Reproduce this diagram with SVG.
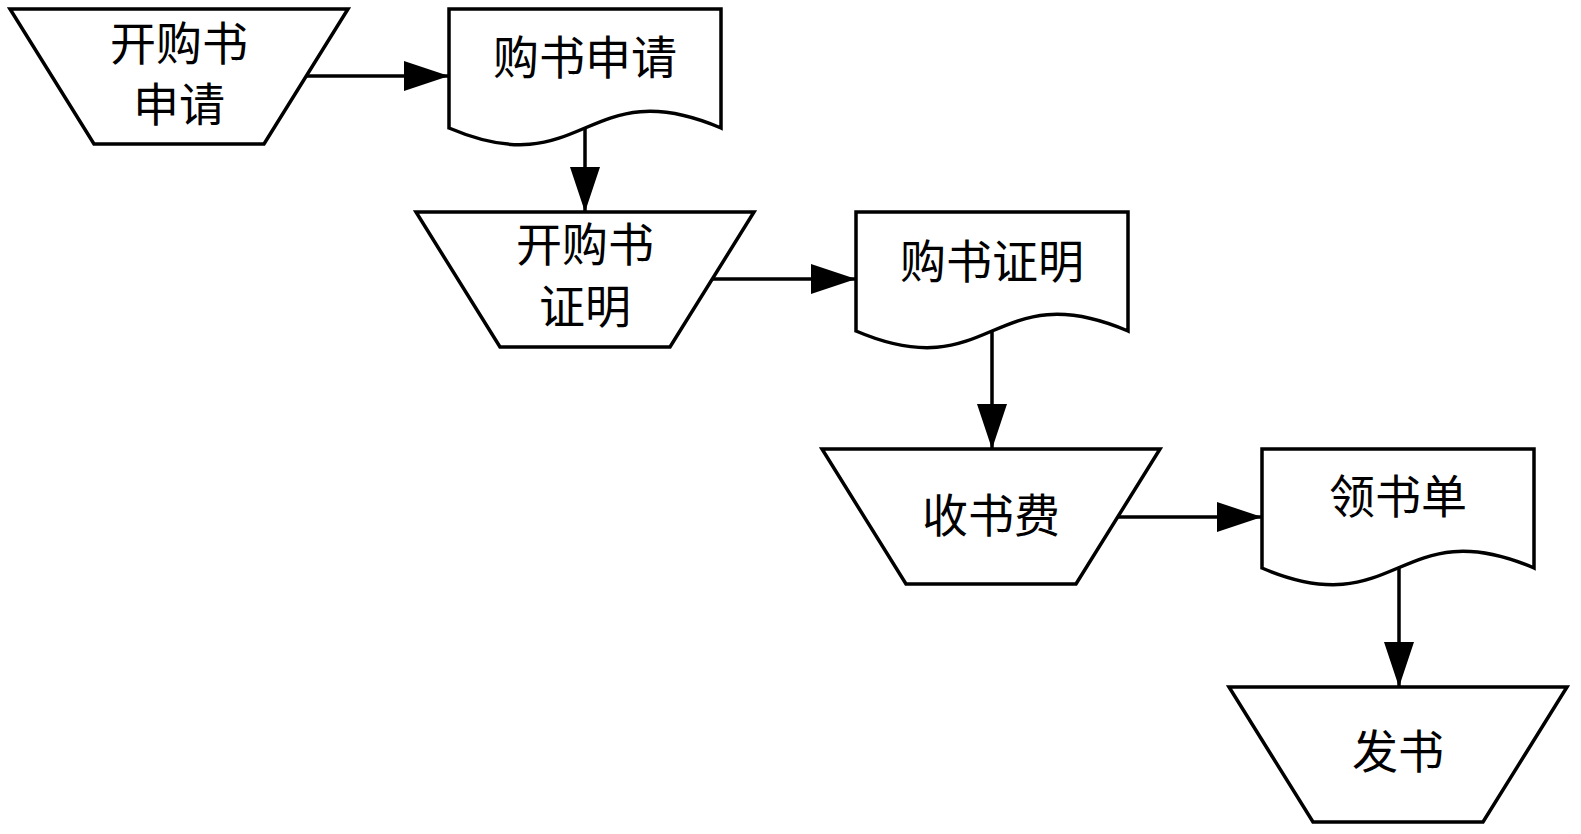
<svg xmlns="http://www.w3.org/2000/svg" xmlns:xlink="http://www.w3.org/1999/xlink" width="1581" height="834" viewBox="0 0 1581 834">
<style>
.shape{fill:#fff;stroke:#000;stroke-width:3.5;stroke-linejoin:miter}
.edge{fill:none;stroke:#000;stroke-width:3.5}
.lbl{font-family:"Liberation Serif","Noto Sans CJK SC",serif;font-size:46px;fill:#000;text-anchor:middle;dominant-baseline:central}
</style>
<defs>
<path id="trap" d="M0,0 H338 L254,135 H84 Z"/>
<path id="doc" d="M0,0 H272 V119 C136,61 136,177 0,119 Z"/>
<marker id="arr" markerUnits="userSpaceOnUse" markerWidth="46" markerHeight="30" refX="45" refY="15" orient="auto">
<path d="M0,0 L45,15 L0,30 Z" fill="#000"/>
</marker>
</defs>
<rect width="1581" height="834" fill="#fff"/>
<g id="connectors">
<path class="edge" d="M306,76 H449" marker-end="url(#arr)"/>
<path class="edge" d="M585,128 V212" marker-end="url(#arr)"/>
<path class="edge" d="M713,279 H856" marker-end="url(#arr)"/>
<path class="edge" d="M992,331 V449" marker-end="url(#arr)"/>
<path class="edge" d="M1118,517 H1262" marker-end="url(#arr)"/>
<path class="edge" d="M1399,568 V687" marker-end="url(#arr)"/>
</g>
<g id="node-kaigoushu-shenqing">
<use xlink:href="#trap" href="#trap" class="shape" x="10" y="9"/>
<text class="lbl" x="179" y="44">开购书</text>
<text class="lbl" x="179" y="105">申请</text>
</g>
<g id="node-goushu-shenqing">
<use xlink:href="#doc" href="#doc" class="shape" x="449" y="9"/>
<text class="lbl" x="585" y="58">购书申请</text>
</g>
<g id="node-kaigoushu-zhengming">
<use xlink:href="#trap" href="#trap" class="shape" x="416" y="212"/>
<text class="lbl" x="585" y="245">开购书</text>
<text class="lbl" x="585" y="307">证明</text>
</g>
<g id="node-goushu-zhengming">
<use xlink:href="#doc" href="#doc" class="shape" x="856" y="212"/>
<text class="lbl" x="992" y="262">购书证明</text>
</g>
<g id="node-shoushufei">
<use xlink:href="#trap" href="#trap" class="shape" x="822" y="449"/>
<text class="lbl" x="991" y="516">收书费</text>
</g>
<g id="node-lingshudan">
<use xlink:href="#doc" href="#doc" class="shape" x="1262" y="449"/>
<text class="lbl" x="1398" y="497">领书单</text>
</g>
<g id="node-fashu">
<use xlink:href="#trap" href="#trap" class="shape" x="1229" y="687"/>
<text class="lbl" x="1398" y="752">发书</text>
</g>
</svg>
